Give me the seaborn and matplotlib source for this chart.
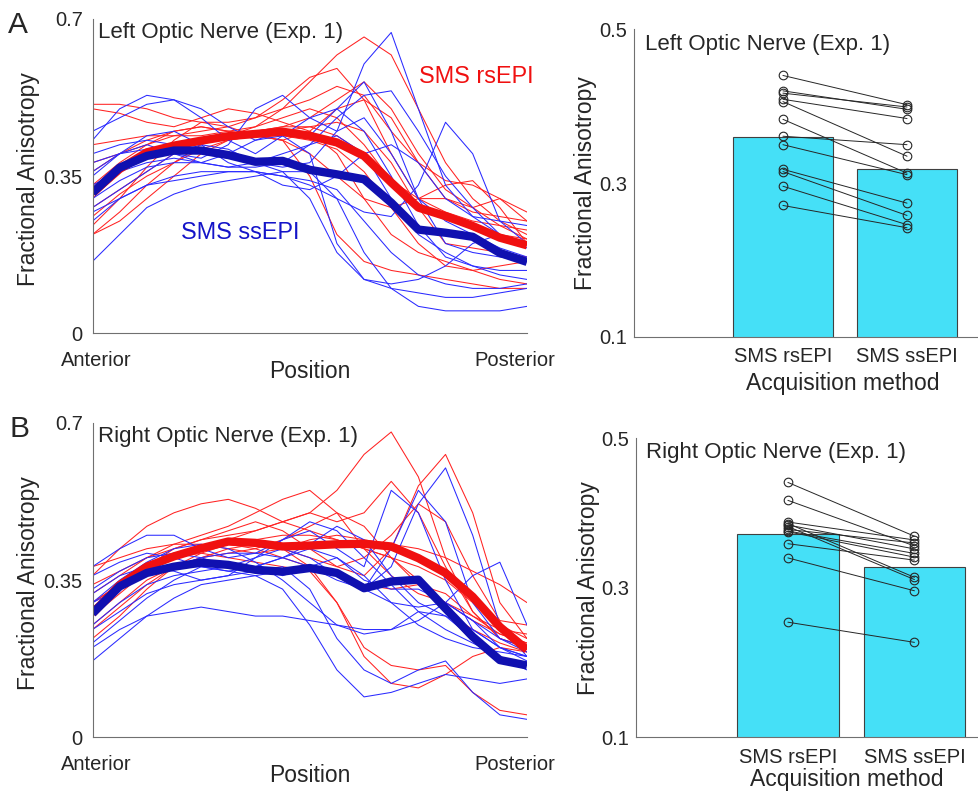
import numpy as np
import pandas as pd
import matplotlib
matplotlib.use("Agg")
import matplotlib.pyplot as plt
import seaborn as sns
from matplotlib.transforms import ScaledTranslation

# ---------------- data ----------------
positions = [k / 16 for k in range(17)]
methods = ["SMS rsEPI", "SMS ssEPI"]

# Panel A (left optic nerve) group means along the nerve
A_rs_mean = [0.313, 0.366, 0.403, 0.418, 0.429, 0.439, 0.444, 0.449, 0.440, 0.425,
             0.395, 0.336, 0.280, 0.261, 0.239, 0.213, 0.196]
A_ss_mean = [0.313, 0.369, 0.395, 0.407, 0.407, 0.397, 0.382, 0.384, 0.364, 0.354,
             0.343, 0.291, 0.231, 0.224, 0.215, 0.179, 0.159]

A_rs_subjects = [
    [0.42, 0.43, 0.44, 0.44, 0.44, 0.45, 0.46, 0.50, 0.56, 0.62, 0.66, 0.62, 0.50, 0.38, 0.30, 0.25, 0.22],
    [0.38, 0.40, 0.42, 0.44, 0.45, 0.46, 0.48, 0.52, 0.57, 0.59, 0.52, 0.40, 0.30, 0.27, 0.25, 0.24, 0.23],
    [0.51, 0.51, 0.50, 0.48, 0.47, 0.47, 0.48, 0.50, 0.52, 0.55, 0.53, 0.45, 0.38, 0.34, 0.33, 0.30, 0.25],
    [0.50, 0.49, 0.47, 0.46, 0.48, 0.50, 0.49, 0.47, 0.45, 0.40, 0.30, 0.22, 0.18, 0.16, 0.14, 0.12, 0.11],
    [0.22, 0.27, 0.33, 0.38, 0.42, 0.44, 0.45, 0.46, 0.46, 0.44, 0.40, 0.34, 0.28, 0.26, 0.24, 0.22, 0.21],
    [0.24, 0.30, 0.37, 0.43, 0.47, 0.46, 0.44, 0.43, 0.45, 0.50, 0.52, 0.48, 0.38, 0.30, 0.27, 0.26, 0.25],
    [0.33, 0.38, 0.42, 0.45, 0.46, 0.45, 0.44, 0.43, 0.35, 0.22, 0.16, 0.14, 0.13, 0.12, 0.11, 0.10, 0.10],
    [0.28, 0.32, 0.36, 0.40, 0.43, 0.44, 0.45, 0.46, 0.48, 0.52, 0.56, 0.50, 0.40, 0.32, 0.28, 0.30, 0.27],
    [0.22, 0.25, 0.30, 0.35, 0.40, 0.43, 0.44, 0.43, 0.40, 0.35, 0.30, 0.28, 0.30, 0.33, 0.34, 0.28, 0.20],
    [0.36, 0.40, 0.43, 0.45, 0.46, 0.45, 0.44, 0.44, 0.43, 0.41, 0.36, 0.28, 0.20, 0.15, 0.14, 0.15, 0.16],
    [0.30, 0.36, 0.40, 0.42, 0.43, 0.44, 0.46, 0.48, 0.50, 0.48, 0.42, 0.34, 0.30, 0.30, 0.28, 0.24, 0.21],
    [0.26, 0.31, 0.35, 0.38, 0.41, 0.43, 0.44, 0.45, 0.46, 0.47, 0.45, 0.38, 0.28, 0.20, 0.19, 0.18, 0.17],
]
A_ss_subjects = [
    [0.40, 0.42, 0.43, 0.42, 0.40, 0.39, 0.38, 0.37, 0.38, 0.45, 0.60, 0.67, 0.50, 0.33, 0.26, 0.22, 0.20],
    [0.27, 0.30, 0.33, 0.35, 0.36, 0.36, 0.36, 0.35, 0.33, 0.30, 0.27, 0.26, 0.33, 0.47, 0.40, 0.25, 0.20],
    [0.36, 0.40, 0.42, 0.40, 0.38, 0.40, 0.43, 0.45, 0.44, 0.50, 0.56, 0.45, 0.30, 0.20, 0.18, 0.17, 0.16],
    [0.30, 0.34, 0.37, 0.38, 0.38, 0.37, 0.37, 0.38, 0.42, 0.48, 0.53, 0.54, 0.45, 0.35, 0.28, 0.22, 0.19],
    [0.45, 0.48, 0.51, 0.52, 0.50, 0.46, 0.43, 0.44, 0.40, 0.20, 0.12, 0.10, 0.09, 0.08, 0.08, 0.09, 0.10],
    [0.16, 0.22, 0.28, 0.31, 0.33, 0.34, 0.35, 0.36, 0.36, 0.30, 0.18, 0.10, 0.06, 0.05, 0.05, 0.05, 0.06],
    [0.43, 0.50, 0.53, 0.52, 0.48, 0.43, 0.40, 0.44, 0.48, 0.50, 0.45, 0.35, 0.24, 0.17, 0.15, 0.14, 0.14],
    [0.38, 0.40, 0.41, 0.40, 0.39, 0.42, 0.50, 0.53, 0.48, 0.45, 0.48, 0.40, 0.30, 0.25, 0.22, 0.19, 0.17],
    [0.25, 0.30, 0.33, 0.34, 0.35, 0.36, 0.36, 0.35, 0.34, 0.32, 0.25, 0.18, 0.13, 0.11, 0.10, 0.10, 0.11],
    [0.33, 0.36, 0.38, 0.39, 0.38, 0.37, 0.38, 0.40, 0.42, 0.44, 0.40, 0.30, 0.22, 0.18, 0.15, 0.13, 0.12],
    [0.35, 0.40, 0.44, 0.45, 0.42, 0.38, 0.36, 0.33, 0.32, 0.35, 0.40, 0.42, 0.38, 0.30, 0.26, 0.25, 0.24],
    [0.28, 0.32, 0.36, 0.40, 0.42, 0.41, 0.38, 0.36, 0.30, 0.18, 0.12, 0.11, 0.12, 0.15, 0.20, 0.22, 0.20],
]

# Panel B (right optic nerve)
B_rs_mean = [0.276, 0.339, 0.380, 0.403, 0.421, 0.436, 0.433, 0.425, 0.427, 0.430,
             0.431, 0.425, 0.399, 0.366, 0.313, 0.246, 0.195]
B_ss_mean = [0.276, 0.336, 0.366, 0.380, 0.389, 0.384, 0.373, 0.369, 0.377, 0.366,
             0.332, 0.347, 0.351, 0.287, 0.224, 0.172, 0.160]

B_rs_subjects = [
    [0.27, 0.32, 0.37, 0.40, 0.42, 0.44, 0.46, 0.48, 0.50, 0.55, 0.63, 0.68, 0.58, 0.40, 0.28, 0.22, 0.20],
    [0.30, 0.34, 0.38, 0.41, 0.42, 0.43, 0.44, 0.42, 0.40, 0.38, 0.36, 0.42, 0.56, 0.63, 0.50, 0.30, 0.22],
    [0.28, 0.33, 0.38, 0.42, 0.44, 0.45, 0.46, 0.48, 0.50, 0.48, 0.50, 0.57, 0.50, 0.38, 0.28, 0.22, 0.20],
    [0.32, 0.36, 0.40, 0.43, 0.45, 0.47, 0.50, 0.53, 0.55, 0.50, 0.42, 0.36, 0.32, 0.30, 0.26, 0.23, 0.21],
    [0.36, 0.42, 0.47, 0.50, 0.52, 0.53, 0.51, 0.48, 0.46, 0.44, 0.42, 0.40, 0.38, 0.35, 0.30, 0.25, 0.22],
    [0.25, 0.30, 0.35, 0.38, 0.40, 0.42, 0.43, 0.42, 0.38, 0.30, 0.20, 0.16, 0.15, 0.16, 0.10, 0.06, 0.05],
    [0.38, 0.40, 0.42, 0.43, 0.43, 0.42, 0.41, 0.42, 0.44, 0.45, 0.44, 0.43, 0.42, 0.40, 0.37, 0.34, 0.30],
    [0.30, 0.34, 0.38, 0.40, 0.41, 0.40, 0.39, 0.38, 0.37, 0.30, 0.18, 0.12, 0.11, 0.14, 0.18, 0.20, 0.19],
    [0.24, 0.29, 0.34, 0.38, 0.40, 0.41, 0.42, 0.44, 0.47, 0.50, 0.47, 0.40, 0.34, 0.30, 0.27, 0.24, 0.23],
    [0.34, 0.37, 0.40, 0.42, 0.44, 0.46, 0.48, 0.46, 0.42, 0.38, 0.40, 0.45, 0.52, 0.48, 0.36, 0.26, 0.25],
    [0.22, 0.27, 0.33, 0.38, 0.41, 0.43, 0.44, 0.45, 0.45, 0.44, 0.42, 0.40, 0.35, 0.28, 0.24, 0.21, 0.19],
    [0.29, 0.33, 0.37, 0.40, 0.42, 0.43, 0.42, 0.40, 0.38, 0.36, 0.34, 0.33, 0.34, 0.32, 0.27, 0.23, 0.21],
]
B_ss_subjects = [
    [0.20, 0.24, 0.27, 0.28, 0.29, 0.28, 0.27, 0.27, 0.26, 0.25, 0.24, 0.24, 0.26, 0.30, 0.26, 0.20, 0.17],
    [0.28, 0.33, 0.37, 0.38, 0.38, 0.37, 0.36, 0.33, 0.25, 0.15, 0.09, 0.10, 0.12, 0.14, 0.13, 0.12, 0.13],
    [0.32, 0.36, 0.38, 0.37, 0.35, 0.36, 0.40, 0.42, 0.40, 0.36, 0.33, 0.38, 0.52, 0.60, 0.45, 0.25, 0.18],
    [0.25, 0.30, 0.34, 0.36, 0.37, 0.38, 0.40, 0.44, 0.46, 0.42, 0.38, 0.55, 0.50, 0.35, 0.24, 0.20, 0.18],
    [0.30, 0.33, 0.36, 0.38, 0.40, 0.41, 0.41, 0.40, 0.38, 0.35, 0.33, 0.42, 0.55, 0.48, 0.30, 0.22, 0.19],
    [0.17, 0.22, 0.27, 0.31, 0.34, 0.35, 0.36, 0.37, 0.38, 0.37, 0.33, 0.30, 0.29, 0.30, 0.36, 0.39, 0.25],
    [0.24, 0.28, 0.32, 0.34, 0.35, 0.36, 0.37, 0.38, 0.33, 0.22, 0.15, 0.12, 0.15, 0.17, 0.10, 0.05, 0.04],
    [0.38, 0.42, 0.45, 0.45, 0.42, 0.40, 0.41, 0.44, 0.48, 0.46, 0.40, 0.34, 0.28, 0.24, 0.21, 0.18, 0.16],
    [0.36, 0.39, 0.41, 0.40, 0.38, 0.37, 0.38, 0.40, 0.43, 0.47, 0.44, 0.36, 0.30, 0.27, 0.24, 0.20, 0.18],
    [0.30, 0.35, 0.39, 0.42, 0.43, 0.42, 0.39, 0.35, 0.30, 0.25, 0.23, 0.24, 0.28, 0.27, 0.22, 0.18, 0.15],
    [0.33, 0.37, 0.40, 0.41, 0.40, 0.38, 0.38, 0.40, 0.42, 0.40, 0.35, 0.33, 0.33, 0.30, 0.26, 0.22, 0.20],
    [0.21, 0.26, 0.31, 0.35, 0.38, 0.39, 0.38, 0.36, 0.38, 0.40, 0.36, 0.30, 0.25, 0.22, 0.20, 0.19, 0.18],
]

# Bar panels: whole-nerve mean FA per subject and group means
A_bar_means = [0.360, 0.318]
A_rs_points = [0.440, 0.420, 0.417, 0.409, 0.406, 0.383, 0.361, 0.350, 0.318, 0.315, 0.296, 0.271]
A_ss_points = [0.402, 0.396, 0.399, 0.384, 0.335, 0.313, 0.350, 0.311, 0.274, 0.258, 0.246, 0.242]

B_bar_means = [0.372, 0.328]
B_rs_points = [0.441, 0.417, 0.388, 0.386, 0.384, 0.382, 0.378, 0.376, 0.375, 0.359, 0.340, 0.254]
B_ss_points = [0.369, 0.356, 0.364, 0.314, 0.352, 0.311, 0.360, 0.346, 0.341, 0.337, 0.296, 0.227]

# ---------------- style ----------------
sns.set_style("white")
plt.rcParams["font.family"] = ["Liberation Sans", "DejaVu Sans"]

RED_THIN = "#ff2222"
BLUE_THIN = "#2a2aff"
RED_MEAN = "#f01010"
BLUE_MEAN = "#1010b0"
CYAN = "#45e0f7"
SPINE = "#707070"
TICK_FS = 14.5
TITLE_FS = 16
LABEL_FS = 16.5
YLABEL_FS = 16.5

fig = plt.figure(figsize=(9.79, 7.92), dpi=100)
W, H = 979.0, 792.0


def px_axes(left, top, right, bottom):
    return fig.add_axes([left / W, 1 - bottom / H, (right - left) / W, (bottom - top) / H])


def profile_panel(ax, rs_subj, ss_subj, rs_mean, ss_mean, title, show_labels):
    rows = []
    for i, vals in enumerate(rs_subj):
        for p, v in zip(positions, vals):
            rows.append(("rs", f"rs{i}", p, v))
    for i, vals in enumerate(ss_subj):
        for p, v in zip(positions, vals):
            rows.append(("ss", f"ss{i}", p, v))
    df = pd.DataFrame(rows, columns=["method", "subject", "pos", "fa"])
    sns.lineplot(data=df, x="pos", y="fa", hue="method", units="subject",
                 estimator=None, palette={"rs": RED_THIN, "ss": BLUE_THIN},
                 lw=0.75, legend=False, ax=ax, sort=False)
    sns.lineplot(x=positions, y=rs_mean, color=RED_MEAN, lw=6, ax=ax,
                 solid_capstyle="butt", solid_joinstyle="round")
    sns.lineplot(x=positions, y=ss_mean, color=BLUE_MEAN, lw=6, ax=ax,
                 solid_capstyle="butt", solid_joinstyle="round")
    ax.set_xlim(0, 1)
    ax.set_ylim(0, 0.7)
    ax.set_yticks([0, 0.35, 0.7])
    ax.set_yticklabels(["0", "0.35", "0.7"])
    ax.set_xticks([k / 8 for k in range(9)])
    ax.set_xticklabels(["Anterior"] + [""] * 7 + ["Posterior"])
    ax.tick_params(axis="both", direction="out", length=4, width=0.8,
                   color=SPINE, labelsize=TICK_FS)
    ax.tick_params(axis="y", pad=3.0)
    ax.tick_params(axis="x", pad=9.0)
    labs = ax.get_xticklabels()
    labs[0].set_transform(labs[0].get_transform() + ScaledTranslation(4 / 100, 0, fig.dpi_scale_trans))
    labs[-1].set_transform(labs[-1].get_transform() + ScaledTranslation(-12 / 100, 0, fig.dpi_scale_trans))
    for s in ["top", "right"]:
        ax.spines[s].set_visible(False)
    for s in ["left", "bottom"]:
        ax.spines[s].set_color(SPINE)
        ax.spines[s].set_linewidth(0.8)
    ax.set_xlabel("Position", fontsize=LABEL_FS)
    ax.xaxis.set_label_coords(0.5, -0.085)
    ax.set_ylabel("Fractional Anisotropy", fontsize=YLABEL_FS)
    ax.yaxis.set_label_coords(-0.121, 0.49)
    ax.text(0.0124, title[1], title[0], transform=ax.transAxes, fontsize=TITLE_FS, va="baseline")
    if show_labels:
        ax.text(0.751, 0.558, "SMS rsEPI", color=RED_MEAN, fontsize=16.8, va="baseline")
        ax.text(0.203, 0.209, "SMS ssEPI", color="#1414c8", fontsize=16.8, va="baseline")


def bar_panel(ax, means, rs_pts, ss_pts, title, xlim, xlab_x, xlab_y):
    sns.barplot(x=methods, y=means, color=CYAN, saturation=1, width=0.8,
                edgecolor="#404040", linewidth=0.8, ax=ax)
    for r, s in zip(rs_pts, ss_pts):
        ax.plot([0, 1], [r, s], color="#262626", lw=0.7, marker="o", ms=6.2,
                mfc="none", mec="#262626", mew=0.8, zorder=5)
    ax.set_xlim(*xlim)
    ax.set_ylim(0.1, 0.5)
    ax.set_yticks([0.1, 0.2, 0.3, 0.4, 0.5])
    ax.set_yticklabels(["0.1", "", "0.3", "", "0.5"])
    ax.tick_params(axis="y", direction="in", length=3.5, width=0.8, color=SPINE,
                   labelsize=TICK_FS, pad=5.0)
    ax.tick_params(axis="x", length=0, labelsize=TICK_FS, pad=7.5)
    for s in ["top", "right"]:
        ax.spines[s].set_visible(False)
    for s in ["left", "bottom"]:
        ax.spines[s].set_color(SPINE)
        ax.spines[s].set_linewidth(0.8)
    ax.set_xlabel("Acquisition method", fontsize=LABEL_FS)
    ax.xaxis.set_label_coords(xlab_x, xlab_y)
    ax.set_ylabel("Fractional Anisotropy", fontsize=YLABEL_FS)
    ax.yaxis.set_label_coords(-0.106, 0.5)
    ax.text(title[1], title[2], title[0], transform=ax.transAxes, fontsize=TITLE_FS, va="baseline")


axA1 = px_axes(92.5, 19.0, 527.0, 333.3)
axA2 = px_axes(634.0, 29.3, 979.0, 337.0)
axB1 = px_axes(92.5, 423.0, 527.0, 737.3)
axB2 = px_axes(636.0, 438.3, 979.0, 737.3)

profile_panel(axA1, A_rs_subjects, A_ss_subjects, A_rs_mean, A_ss_mean,
              ("Left Optic Nerve (Exp. 1)", 0.938), True)
profile_panel(axB1, B_rs_subjects, B_ss_subjects, B_rs_mean, B_ss_mean,
              ("Right Optic Nerve (Exp. 1)", 0.941), False)
bar_panel(axA2, A_bar_means, A_rs_points, A_ss_points,
          ("Left Optic Nerve (Exp. 1)", 0.032, 0.933), (-1.2, 1.58), 0.606, -0.113)
bar_panel(axB2, B_bar_means, B_rs_points, B_ss_points,
          ("Right Optic Nerve (Exp. 1)", 0.029, 0.933), (-1.2, 1.51), 0.614, -0.104)

fig.text(8 / W, 1 - 33 / H, "A", fontsize=21.5, va="baseline")
fig.text(9.5 / W, 1 - 437 / H, "B", fontsize=21.5, va="baseline")

fig.savefig("out.png", dpi=100)
